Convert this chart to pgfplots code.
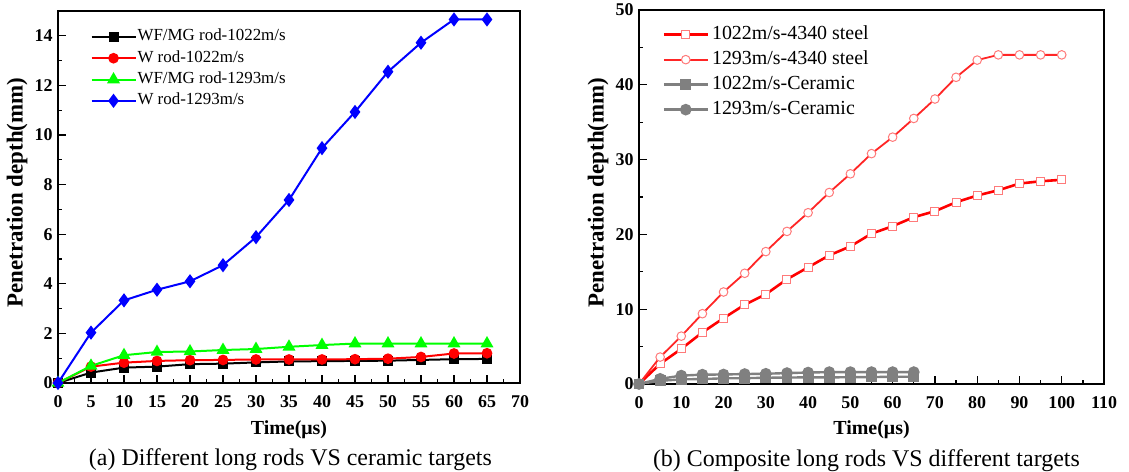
\documentclass[border=0pt]{standalone}
\usepackage{fontspec}
\setmainfont{Liberation Serif}
\usepackage{pgfplots}
\pgfplotsset{compat=1.18}

\definecolor{cGreen}{HTML}{00FF00}
\definecolor{cPink}{HTML}{FF7A7A}
\definecolor{cGray}{HTML}{808080}

\pgfplotsset{
  panel/.style={
    scale only axis,
    clip mode=individual,
    axis line style={line width=1.3bp},
    every tick/.style={line width=1.3bp, black},
    tick pos=left, tick align=inside,
    major tick length=8bp, minor tick length=4bp,
    minor x tick num=1, minor y tick num=1,
    /pgf/number format/assume math mode=true,
    ticklabel style={font=\bfseries\fontsize{18}{18}\selectfont},
    xticklabel style={yshift=-9bp},
    yticklabel style={xshift=-2bp},
    xlabel style={font=\bfseries\fontsize{20}{20}\selectfont},
    ylabel style={font=\bfseries\fontsize{23}{23}\selectfont},
    xlabel={Time(μs)},
    ylabel={Penetration depth(mm)},
    legend cell align=left,
    legend image code/.code={%
      \draw[mark repeat=2,mark phase=2,##1] plot coordinates {(0bp,0bp) (22bp,0bp) (44bp,0bp)};},
  }
}

\begin{document}
\begin{tikzpicture}[x=1bp,y=1bp]
\path[use as bounding box] (0,0) rectangle (1129,472);

% ---- (a) ----
\begin{axis}[panel,
  at={(58bp,89bp)}, anchor=south west,
  width=462bp, height=372bp,
  xmin=0, xmax=70, ymin=0, ymax=15,
  xtick={0,5,...,70}, ytick={0,2,...,14},
  xlabel style={at={(axis description cs:0.5,-0.126)}, anchor=center},
  ylabel style={at={(axis description cs:-0.0887,0.512)}, anchor=center},
  legend style={draw=none, fill=none, inner sep=0pt,
    at={(axis description cs:0.07,0.955)}, anchor=north west,
    font=\fontsize{17}{17}\selectfont, row sep=3.3bp,
    nodes={inner sep=1bp, text height=12bp, text depth=4bp}},
  every axis plot/.append style={line width=2bp},
]
\addplot[black, mark=square*, mark size=4bp, mark options={solid}] coordinates {
 (0,0)(5,0.42)(10,0.62)(15,0.66)(20,0.76)(25,0.78)(30,0.83)(35,0.87)(40,0.88)(45,0.89)(50,0.90)(55,0.93)(60,0.96)(65,0.97)};
\addlegendentry{WF/MG rod-1022m/s}
\addplot[red, mark=*, mark size=4.3bp, mark options={solid}] coordinates {
 (0,0)(5,0.66)(10,0.82)(15,0.89)(20,0.92)(25,0.93)(30,0.95)(35,0.95)(40,0.95)(45,0.96)(50,0.98)(55,1.05)(60,1.19)(65,1.20)};
\addlegendentry{W rod-1022m/s}
\addplot[cGreen, mark=triangle*, mark size=5.5bp, mark options={solid}] coordinates {
 (0,0)(5,0.69)(10,1.12)(15,1.25)(20,1.27)(25,1.33)(30,1.37)(35,1.46)(40,1.53)(45,1.59)(50,1.59)(55,1.59)(60,1.59)(65,1.59)};
\addlegendentry{WF/MG rod-1293m/s}
\addplot[blue, mark=diamond*, mark size=5.5bp, mark options={solid}] coordinates {
 (0,0)(5,2.03)(10,3.33)(15,3.76)(20,4.10)(25,4.75)(30,5.88)(35,7.38)(40,9.47)(45,10.93)(50,12.55)(55,13.72)(60,14.66)(65,14.66)};
\addlegendentry{W rod-1293m/s}
\node[font=\fontsize{24}{24}\selectfont] at (axis description cs:0.503,-0.205) {(a) Different long rods VS ceramic targets};
\end{axis}

% ---- (b) ----
\begin{axis}[panel,
  at={(639bp,88bp)}, anchor=south west,
  width=465bp, height=374bp,
  xmin=0, xmax=110, ymin=0, ymax=50,
  xtick={0,10,...,110}, ytick={0,10,...,50},
  xlabel style={at={(axis description cs:0.5,-0.123)}, anchor=center},
  ylabel style={at={(axis description cs:-0.0882,0.512)}, anchor=center},
  legend style={draw=none, fill=none, inner sep=0pt,
    at={(axis description cs:0.05,0.962)}, anchor=north west,
    font=\fontsize{20}{20}\selectfont, row sep=4.5bp,
    nodes={inner xsep=3bp, inner ysep=1bp, text height=14bp, text depth=4.5bp}},
]
\addplot[red, line width=2.6bp, mark=square*, mark size=4bp, mark options={solid, fill=white, draw=cPink, line width=1bp}] coordinates {
 (0,0)(5,2.7)(10,4.7)(15,6.9)(20,8.8)(25,10.6)(30,12.0)(35,14.0)(40,15.6)(45,17.2)(50,18.4)(55,20.1)(60,21.1)(65,22.3)(70,23.1)(75,24.3)(80,25.2)(85,25.9)(90,26.8)(95,27.1)(100,27.3)};
\addlegendentry{1022m/s-4340 steel}
\addplot[red!85!white, line width=1.8bp, mark=*, mark size=4.3bp, mark options={solid, fill=white, draw=cPink, line width=1bp}] coordinates {
 (0,0)(5,3.6)(10,6.4)(15,9.4)(20,12.3)(25,14.8)(30,17.7)(35,20.4)(40,22.9)(45,25.6)(50,28.1)(55,30.8)(60,33.0)(65,35.5)(70,38.1)(75,41.0)(80,43.3)(85,44.0)(90,44.0)(95,44.0)(100,44.0)};
\addlegendentry{1293m/s-4340 steel}
\addplot[cGray, line width=2.4bp, mark=square*, mark size=4.2bp, mark options={solid}] coordinates {
 (0,0)(5,0.42)(10,0.62)(15,0.66)(20,0.76)(25,0.78)(30,0.83)(35,0.87)(40,0.88)(45,0.89)(50,0.90)(55,0.93)(60,0.96)(65,0.97)};
\addlegendentry{1022m/s-Ceramic}
\addplot[cGray, line width=2.4bp, mark=*, mark size=4.6bp, mark options={solid}] coordinates {
 (0,0)(5,0.69)(10,1.12)(15,1.25)(20,1.27)(25,1.33)(30,1.37)(35,1.46)(40,1.53)(45,1.59)(50,1.59)(55,1.59)(60,1.59)(65,1.59)};
\addlegendentry{1293m/s-Ceramic}
\node[font=\fontsize{24}{24}\selectfont] at (axis description cs:0.489,-0.205) {(b) Composite long rods VS different targets};
\end{axis}
\end{tikzpicture}
\end{document}
